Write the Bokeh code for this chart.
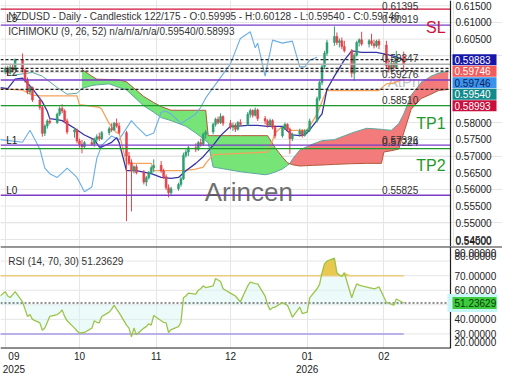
import numpy as np
import pandas as pd
from bokeh.plotting import figure
from bokeh.layouts import column
from bokeh.models import Range1d, FixedTicker, Span, Label, Grid
from bokeh.embed import file_html
from bokeh.resources import INLINE
from bokeh.core.properties import value

FONT = "Liberation Sans"

# ---------------- data ----------------
candle_dates = [
    "2025-09-01", "2025-09-02", "2025-09-03", "2025-09-04", "2025-09-05", "2025-09-08", "2025-09-09", "2025-09-10",
    "2025-09-11", "2025-09-12", "2025-09-15", "2025-09-16", "2025-09-17", "2025-09-18", "2025-09-19", "2025-09-22",
    "2025-09-23", "2025-09-24", "2025-09-25", "2025-09-26", "2025-09-29", "2025-09-30",
    "2025-10-01", "2025-10-02", "2025-10-03", "2025-10-06", "2025-10-07", "2025-10-08", "2025-10-09", "2025-10-10",
    "2025-10-13", "2025-10-14", "2025-10-15", "2025-10-16", "2025-10-17", "2025-10-20", "2025-10-21", "2025-10-22",
    "2025-10-23", "2025-10-24", "2025-10-27", "2025-10-28", "2025-10-29", "2025-10-30", "2025-10-31",
    "2025-11-03", "2025-11-04", "2025-11-05", "2025-11-06", "2025-11-07", "2025-11-10", "2025-11-11", "2025-11-12",
    "2025-11-13", "2025-11-14", "2025-11-17", "2025-11-18", "2025-11-19", "2025-11-20", "2025-11-21", "2025-11-24",
    "2025-11-25", "2025-11-26", "2025-11-27", "2025-11-28",
    "2025-12-01", "2025-12-02", "2025-12-03", "2025-12-04", "2025-12-05", "2025-12-08", "2025-12-09", "2025-12-10",
    "2025-12-11", "2025-12-12", "2025-12-15", "2025-12-16", "2025-12-17", "2025-12-18", "2025-12-19", "2025-12-22",
    "2025-12-23", "2025-12-24", "2025-12-25", "2025-12-26", "2025-12-29", "2025-12-30", "2025-12-31",
    "2026-01-01", "2026-01-02", "2026-01-05", "2026-01-06", "2026-01-07", "2026-01-08", "2026-01-09", "2026-01-12",
    "2026-01-13", "2026-01-14", "2026-01-15", "2026-01-16", "2026-01-19", "2026-01-20", "2026-01-21", "2026-01-22",
    "2026-01-23", "2026-01-26", "2026-01-27", "2026-01-28", "2026-01-29", "2026-01-30",
    "2026-02-02", "2026-02-03", "2026-02-04", "2026-02-05", "2026-02-06", "2026-02-09",
]
candle_open = [
    0.5952, 0.5962, 0.5948, 0.5966, 0.5958, 0.5988, 0.5958, 0.5928, 0.5892, 0.5905, 0.5868, 0.5845, 0.5768, 0.5790,
    0.5805, 0.5800, 0.5825, 0.5842, 0.5835, 0.5805, 0.5772, 0.5778,
    0.5745, 0.5735, 0.5728, 0.5740, 0.5735, 0.5750, 0.5758, 0.5752, 0.5770, 0.5782, 0.5778, 0.5798, 0.5790, 0.5770,
    0.5700, 0.5680, 0.5655, 0.5668, 0.5650, 0.5622, 0.5635, 0.5650, 0.5665,
    0.5672, 0.5655, 0.5638, 0.5605, 0.5590, 0.5602, 0.5615, 0.5632, 0.5702, 0.5712, 0.5725, 0.5720, 0.5740, 0.5735,
    0.5765, 0.5772, 0.5795, 0.5810, 0.5800, 0.5818,
    0.5798, 0.5786, 0.5792, 0.5780, 0.5800, 0.5795, 0.5825, 0.5836, 0.5822, 0.5838, 0.5812, 0.5805, 0.5792, 0.5806,
    0.5786, 0.5760, 0.5785, 0.5795, 0.5780, 0.5752, 0.5765, 0.5775, 0.5762,
    0.5774, 0.5778, 0.5805, 0.5872, 0.5920, 0.5968, 0.6008, 0.6040, 0.6058, 0.6040, 0.6045, 0.6028, 0.6015, 0.5948,
    0.6002, 0.6040, 0.6048, 0.6035, 0.6045, 0.6036, 0.6030, 0.6044,
    0.6032, 0.5970, 0.5960, 0.5978, 0.5965, 0.59995,
]
candle_high = [
    0.5968, 0.5970, 0.5972, 0.5975, 0.5992, 0.6007, 0.5962, 0.5935, 0.5910, 0.5908, 0.5875, 0.5850, 0.5795, 0.5810,
    0.5815, 0.5830, 0.5848, 0.5855, 0.5840, 0.5812, 0.5785, 0.5782,
    0.5752, 0.5748, 0.5745, 0.5752, 0.5755, 0.5765, 0.5770, 0.5775, 0.5788, 0.5798, 0.5802, 0.5812, 0.5800, 0.5775,
    0.5712, 0.5690, 0.5672, 0.5675, 0.5658, 0.5640, 0.5655, 0.5670, 0.5690,
    0.5685, 0.5662, 0.5645, 0.5615, 0.5608, 0.5620, 0.5638, 0.5710, 0.5720, 0.5730, 0.5738, 0.5745, 0.5752, 0.5770,
    0.5778, 0.5800, 0.5815, 0.5818, 0.5828, 0.5822,
    0.5808, 0.5800, 0.5798, 0.5805, 0.5810, 0.5832, 0.5842, 0.5840, 0.5845, 0.5842, 0.5820, 0.5810, 0.5812, 0.5810,
    0.5792, 0.5790, 0.5800, 0.5798, 0.5785, 0.5770, 0.5782, 0.5780, 0.5780,
    0.5782, 0.5812, 0.5878, 0.5925, 0.5975, 0.6015, 0.6048, 0.6088, 0.6070, 0.6052, 0.6055, 0.6045, 0.6020, 0.6008,
    0.6045, 0.6052, 0.6072, 0.6050, 0.6066, 0.6048, 0.6048, 0.6050,
    0.6045, 0.5992, 0.5985, 0.5982, 0.6015, 0.60128,
]
candle_low = [
    0.5945, 0.5940, 0.5944, 0.5950, 0.5955, 0.5950, 0.5920, 0.5885, 0.5885, 0.5862, 0.5838, 0.5758, 0.5760, 0.5782,
    0.5795, 0.5796, 0.5820, 0.5828, 0.5798, 0.5765, 0.5755, 0.5738,
    0.5725, 0.5708, 0.5722, 0.5730, 0.5728, 0.5742, 0.5745, 0.5748, 0.5762, 0.5772, 0.5775, 0.5785, 0.5765, 0.5505,
    0.5672, 0.5534, 0.5648, 0.5645, 0.5615, 0.5610, 0.5630, 0.5645, 0.5652,
    0.5650, 0.5632, 0.5598, 0.5576, 0.5580, 0.5596, 0.5608, 0.5628, 0.5695, 0.5700, 0.5712, 0.5715, 0.5728, 0.5730,
    0.5752, 0.5765, 0.5788, 0.5795, 0.5796, 0.5790,
    0.5780, 0.5775, 0.5772, 0.5776, 0.5790, 0.5790, 0.5815, 0.5815, 0.5818, 0.5805, 0.5795, 0.5785, 0.5788, 0.5780,
    0.5752, 0.5755, 0.5778, 0.5775, 0.5707, 0.5745, 0.5758, 0.5755, 0.5758,
    0.5768, 0.5772, 0.5800, 0.5865, 0.5912, 0.5960, 0.6000, 0.6030, 0.6032, 0.6025, 0.6020, 0.6010, 0.5935, 0.5925,
    0.5998, 0.6028, 0.6030, 0.6025, 0.6030, 0.6022, 0.6025, 0.6020,
    0.5962, 0.5950, 0.5955, 0.5958, 0.5960, 0.59540,
]
candle_close = [
    0.5962, 0.5948, 0.5966, 0.5958, 0.5988, 0.5958, 0.5928, 0.5892, 0.5905, 0.5868, 0.5845, 0.5768, 0.5790, 0.5805,
    0.5800, 0.5825, 0.5842, 0.5835, 0.5805, 0.5772, 0.5778, 0.5745,
    0.5735, 0.5728, 0.5740, 0.5735, 0.5750, 0.5758, 0.5752, 0.5770, 0.5782, 0.5778, 0.5798, 0.5790, 0.5770, 0.5700,
    0.5680, 0.5655, 0.5668, 0.5650, 0.5622, 0.5635, 0.5650, 0.5665, 0.5672,
    0.5655, 0.5638, 0.5605, 0.5590, 0.5602, 0.5615, 0.5632, 0.5702, 0.5712, 0.5725, 0.5720, 0.5740, 0.5735, 0.5765,
    0.5772, 0.5795, 0.5810, 0.5800, 0.5818, 0.5798,
    0.5786, 0.5792, 0.5780, 0.5800, 0.5795, 0.5825, 0.5836, 0.5822, 0.5838, 0.5812, 0.5805, 0.5792, 0.5806, 0.5786,
    0.5760, 0.5785, 0.5795, 0.5780, 0.5752, 0.5765, 0.5775, 0.5762, 0.5774,
    0.5778, 0.5805, 0.5872, 0.5920, 0.5968, 0.6008, 0.6040, 0.6058, 0.6040, 0.6045, 0.6028, 0.6015, 0.5948, 0.6002,
    0.6040, 0.6048, 0.6035, 0.6045, 0.6036, 0.6030, 0.6044, 0.6032,
    0.5970, 0.5960, 0.5978, 0.5965, 0.5995, 0.59746,
]

rsi_dates = ["2025-08-29"] + candle_dates
rsi_values = [
    54.8,
    59, 56, 55, 57, 59, 52, 47, 42, 43.3, 40, 37.6, 32.5, 34, 38, 42, 43.3, 44.5, 46.5, 42, 39, 34, 32,
    30.6, 30.8, 31, 34, 39, 38, 37.6, 42, 45, 47, 49.7, 47, 44.6, 36, 34, 28, 34, 29.4, 34, 35, 37, 36, 42.7,
    39, 38, 37.6, 31, 33, 35, 38, 54.8, 56, 58, 57.3, 60, 61, 63, 61.7, 63, 68, 67, 66, 61,
    58, 57, 56, 54, 52, 63, 65.6, 65, 64.5, 64.3, 56, 50, 46.5, 48, 48.4, 51.6, 50.5, 49.7, 45.9, 41.4, 48.4, 44, 44.5,
    45, 54.8, 61, 64, 72, 78, 80, 82, 72, 70.5, 69.4, 72, 54.8, 60, 64.3, 63.5, 63, 61.7, 61.5, 61, 61.5, 62.4,
    51.6, 51, 50.5, 49.7, 54, 51.23629,
]

tenkan_dates = [
    "2025-08-30", "2025-09-02", "2025-09-05", "2025-09-08", "2025-09-12", "2025-09-16", "2025-09-18", "2025-09-19",
    "2025-09-22", "2025-09-24", "2025-09-26", "2025-09-29", "2025-10-03", "2025-10-07", "2025-10-09", "2025-10-10",
    "2025-10-14", "2025-10-16", "2025-10-17", "2025-10-20", "2025-10-24", "2025-10-30", "2025-11-03", "2025-11-07",
    "2025-11-10", "2025-11-13", "2025-11-17", "2025-11-20", "2025-11-24", "2025-11-27", "2025-12-01", "2025-12-03",
    "2025-12-08", "2025-12-12", "2025-12-16", "2025-12-22", "2025-12-24", "2025-12-26", "2025-12-29", "2025-12-31",
    "2026-01-02", "2026-01-07", "2026-01-09", "2026-01-12", "2026-01-16", "2026-01-19", "2026-01-23", "2026-01-29",
    "2026-02-02", "2026-02-05", "2026-02-09",
]
tenkan_values = [
    0.5905, 0.5902, 0.5930, 0.5933, 0.5902, 0.5862, 0.5834, 0.5812, 0.5809, 0.5806, 0.5797, 0.5783, 0.5763, 0.5749,
    0.5727, 0.5727, 0.5741, 0.5755, 0.5741, 0.5656, 0.5656, 0.5647, 0.5636, 0.5633, 0.5636, 0.5656, 0.5678, 0.5698,
    0.5732, 0.5761, 0.5789, 0.5789, 0.5792, 0.5792, 0.5789, 0.5789, 0.5775, 0.5763, 0.5761, 0.5763, 0.5778, 0.5826,
    0.5900, 0.5939, 0.5987, 0.6015, 0.6010, 0.6010, 0.6004, 0.5999, 0.59883,
]

kijun_dates = [
    "2025-08-29", "2025-09-08", "2025-09-12", "2025-09-15", "2025-09-30", "2025-10-01", "2025-10-09", "2025-10-10",
    "2025-10-13", "2025-10-16", "2025-10-17", "2025-10-20", "2025-10-30", "2025-10-31", "2025-11-12", "2025-11-17",
    "2025-11-20", "2025-11-21", "2025-11-24", "2025-12-16", "2025-12-18", "2025-12-19", "2025-12-22", "2025-12-24",
    "2025-12-25", "2026-01-01", "2026-01-02", "2026-01-05", "2026-01-08", "2026-01-09", "2026-01-30", "2026-02-02",
    "2026-02-05", "2026-02-09",
]
kijun_values = [
    0.5902, 0.5897, 0.5882, 0.5880, 0.5880, 0.5854, 0.5846, 0.5840, 0.5797, 0.5769, 0.5769, 0.5678, 0.5678, 0.5656,
    0.5656, 0.5661, 0.5667, 0.5678, 0.5704, 0.5712, 0.5746, 0.5769, 0.5789, 0.5789, 0.5777, 0.5777, 0.5789, 0.5826,
    0.5882, 0.5896, 0.5896, 0.5916, 0.5919, 0.5931,
]

chikou_dates = [
    "2025-08-30", "2025-09-08", "2025-09-11", "2025-09-15", "2025-09-17", "2025-09-19", "2025-09-22", "2025-09-25",
    "2025-09-26", "2025-09-30", "2025-10-03", "2025-10-06", "2025-10-08", "2025-10-10", "2025-10-14", "2025-10-17",
    "2025-10-22", "2025-10-24", "2025-10-28", "2025-10-31", "2025-11-03", "2025-11-05", "2025-11-07", "2025-11-11",
    "2025-11-17", "2025-11-19", "2025-11-21", "2025-12-01", "2025-12-05", "2025-12-09", "2025-12-11", "2025-12-12",
    "2025-12-15", "2025-12-18", "2025-12-22", "2025-12-26", "2025-12-29", "2025-12-31", "2026-01-02", "2026-01-05",
]
chikou_values = [
    0.5749, 0.5741, 0.5777, 0.5721, 0.5664, 0.5647, 0.5636, 0.5656, 0.5664, 0.5636, 0.5593, 0.5607, 0.5693, 0.5732,
    0.5760, 0.5749, 0.5806, 0.5789, 0.5760, 0.5769, 0.5831, 0.5834, 0.5826, 0.5797, 0.5826, 0.5846, 0.5874, 0.5976,
    0.6052, 0.6072, 0.6024, 0.6038, 0.5939, 0.6047, 0.6038, 0.6044, 0.5967, 0.5967, 0.5987, 0.5996,
]

span_a_early_dates = ["2025-09-04", "2025-09-12", "2025-09-16", "2025-09-22", "2025-09-26", "2025-09-30"]
span_a_early_values = [0.5942, 0.5950, 0.5939, 0.5905, 0.5885, 0.5888]

cloud_dates = [
    "2025-10-02", "2025-10-06", "2025-10-08", "2025-10-13", "2025-10-17", "2025-10-20", "2025-10-27", "2025-10-31",
    "2025-11-03", "2025-11-07", "2025-11-13", "2025-11-17", "2025-11-21", "2025-11-22", "2025-11-24", "2025-12-05",
    "2025-12-15", "2025-12-16", "2025-12-19", "2025-12-22", "2025-12-24", "2025-12-25", "2025-12-26", "2025-12-29",
    "2026-01-03", "2026-01-07", "2026-01-12", "2026-01-19", "2026-01-25", "2026-01-31", "2026-02-01", "2026-02-04",
    "2026-02-07", "2026-02-09", "2026-02-12", "2026-02-16", "2026-02-20", "2026-02-23", "2026-02-27",
]
span_a = [
    0.5902, 0.5911, 0.5913, 0.5916, 0.5905, 0.5898, 0.5850, 0.5831, 0.5815, 0.5806, 0.5789, 0.5769, 0.5746, 0.5740,
    0.5667, 0.5653, 0.5644, 0.5645, 0.5652, 0.5661, 0.5672, 0.5677, 0.5690, 0.5718, 0.5735, 0.5746, 0.5749, 0.5769,
    0.5783, 0.5780, 0.5779, 0.5777, 0.5797, 0.5826, 0.5882, 0.5919, 0.5939, 0.5948, 0.59540,
]
span_b = [
    0.5959, 0.5939, 0.5930, 0.5929, 0.5928, 0.5922, 0.5878, 0.5860, 0.5848, 0.5837, 0.5837, 0.5837, 0.5837, 0.5761,
    0.5761, 0.5761, 0.5761, 0.5761, 0.5725, 0.5697, 0.5680, 0.5677, 0.5674, 0.5670, 0.5672, 0.5673, 0.5675, 0.5677,
    0.5678, 0.5678, 0.5712, 0.5716, 0.5721, 0.5769, 0.5840, 0.5872, 0.5885, 0.5896, 0.58993,
]
cloud_cross_date = "2025-12-25"

level_names = ["SL", "L3", "L2", "TP1", "L1", "TP2", "L0"]
level_values = [0.61395, 0.60919, 0.59276, 0.58510, 0.57326, 0.57224, 0.55825]
dotted_levels = [0.59883, 0.59625, 0.59540, 0.58993]
close_level = 0.59746

price_ticks = [0.545, 0.550, 0.555, 0.560, 0.565, 0.570, 0.575, 0.580, 0.585, 0.590, 0.595, 0.600, 0.605, 0.610, 0.615]
price_ticks_hidden = [0.585, 0.590, 0.595, 0.600]
rsi_grid = [20, 30, 40, 50, 60, 70, 80, 90]
rsi_ticks = [30, 40, 60, 70]
month_ticks = ["2025-09-01", "2025-10-01", "2025-11-01", "2025-12-01", "2026-01-01", "2026-02-01"]
month_label_dates = ["2025-09-04 12:00", "2025-10-01", "2025-11-01", "2025-12-01", "2026-01-01", "2026-02-01"]
month_labels = ["09\n2025", "10", "11", "12", "01\n2026", "02"]

axis_tags = ["0.59883", "0.59746", "0.59746", "0.59540", "0.58993"]
axis_tag_values = [0.59883, 0.59746, 0.59746, 0.59540, 0.58993]
axis_tag_bg = ["#1616a8", "#f25c5c", "#3a92ea", "#138a8c", "#c8103e"]
axis_tag_fg = ["white", "white", "#10205a", "white", "white"]

title_1 = "NZDUSD - Daily - Candlestick    122/175 - O:0.59995 - H:0.60128 - L:0.59540 - C:0.59746"
title_2 = "ICHIMOKU (9, 26, 52)    n/a/n/a/n/a/0.59540/0.58993"
rsi_title = "RSI (14, 70, 30)    51.23629"
rsi_last = 51.23629

# ---------------- geometry helpers ----------------
DAY = 86400000.0
BASE = pd.Timestamp("2025-09-01").value / 1e6
X0 = BASE - 1.91 * DAY          # left edge of the chart area
X1 = BASE + 179.9 * DAY         # right edge of the chart area (axis line)
FW, AW = 450, 52                # chart width, axis-strip width
XE = X0 + (X1 - X0) * (FW + AW) / FW
Y0, Y1 = 0.54291, 0.61656
FH, RH = 246, 102


def ms(s):
    return pd.Timestamp(s).value / 1e6


def X(px):                      # reference-pixel x inside chart -> data x
    return X0 + px / 467.0 * (X1 - X0)


def XA(px):                     # pixels to the right of the axis line -> data x
    return X1 + px * (X1 - X0) / FW


def PY(px):
    return Y1 - px / 260.0 * (Y1 - Y0)


def RY(px):
    return 90.0 - (px - 260.0) / 109.0 * 70.0


month_ms = [ms(d) for d in month_ticks]
GRID = "#e6e6e6"
AXC = "#222222"


def txt(fig, x, y, t, size="10px", color="#222", align="left", baseline="middle"):
    fig.text(x=x, y=y, text=t, text_font=value(FONT), text_font_size=size, text_color=color,
             text_align=align, text_baseline=baseline)


def lab(fig, x, y, text, size="10px", color="#333", align="left", baseline="middle", alpha=1.0):
    fig.add_layout(Label(x=x, y=y, text=text, text_font=FONT, text_font_size=size, text_color=color,
                         text_align=align, text_baseline=baseline, text_alpha=alpha))


# ---------------- main price panel ----------------
p = figure(frame_width=FW + AW, frame_height=FH, x_range=Range1d(X0, XE), y_range=Range1d(Y0, Y1),
           x_axis_type="datetime", x_axis_location=None, y_axis_location=None,
           output_backend="svg", toolbar_location=None,
           min_border_left=0, min_border_right=0, min_border_top=0, min_border_bottom=0)
p.outline_line_color = None
p.add_layout(Grid(dimension=0, ticker=FixedTicker(ticks=month_ms), grid_line_color=GRID))
p.segment(x0=X0, x1=X1, y0=price_ticks, y1=price_ticks, line_color=GRID, line_width=1)

# watermark under the cloud
txt(p, [X(402)], [PY(86)], ["AtPrice"], size="15px", color="#c0c0c0", baseline="alphabetic")

# cloud
cd = pd.to_datetime(cloud_dates)
A = np.array(span_a)
B = np.array(span_b)
k = cloud_dates.index(cloud_cross_date)
p.varea(x=cd[:k + 1], y1=A[:k + 1], y2=B[:k + 1], fill_color="#6fe36f", fill_alpha=0.95)
p.varea(x=cd[k:], y1=A[k:], y2=B[k:], fill_color="#f27474", fill_alpha=0.95)
a_dates = pd.to_datetime(span_a_early_dates + cloud_dates)
a_vals = span_a_early_values + span_a
p.line(a_dates, a_vals, line_color="#5aa8a0", line_width=1)
p.line(cd, B, line_color="#b05a3c", line_width=1)

# ichimoku lines
p.line(pd.to_datetime(chikou_dates), chikou_values, line_color="#6aaee6", line_width=1.1)
p.line(pd.to_datetime(kijun_dates), kijun_values, line_color="#f5a25c", line_width=1.3)
p.line(pd.to_datetime(tenkan_dates), tenkan_values, line_color="#3434a8", line_width=1.3)

# candles
cx = pd.to_datetime(candle_dates)
o = np.array(candle_open)
c = np.array(candle_close)
col = np.where(c >= o, "#2f9e72", "#e5434c")
p.segment(x0=cx, y0=candle_low, x1=cx, y1=candle_high, line_color=col, line_width=1)
p.vbar(x=cx, width=0.8 * DAY, top=np.maximum(o, c), bottom=np.minimum(o, c), fill_color=col, line_color=col,
       line_width=0.5)

# level lines (end at the axis line)
level_colors = {"SL": "#d0103a", "L3": "#7a3cc8", "L2": "#7a3cc8", "L1": "#7a3cc8", "L0": "#7a3cc8",
                "TP1": "#1f9a2a", "TP2": "#1f9a2a"}
p.segment(x0=X0, x1=X1, y0=level_values, y1=level_values,
          line_color=[level_colors[n] for n in level_names], line_width=1.3)
p.segment(x0=X0, x1=X1, y0=dotted_levels, y1=dotted_levels, line_color="#222", line_width=1.2, line_dash="3 2")
p.segment(x0=[X0], x1=[X1], y0=[close_level], y1=[close_level], line_color="#b0b0b0", line_width=1.5)

# value texts above lines
for t, py in [("0.61395", 6), ("0.60919", 20), ("0.59347", 61), ("0.59276", 78), ("0.58510", 105),
              ("0.57326", 147), ("0.57224", 150), ("0.55825", 200)]:
    lab(p, X(396), PY(py), t, size="10px", color="#333")

# left level names
for t, py in [("L3", 19), ("L2", 76), ("L1", 148), ("L0", 201)]:
    lab(p, X(6), PY(py), t, size="10px", color="#222", baseline="alphabetic")

# SL / TP texts
lab(p, X(462), PY(29), "SL", size="16px", color="#d0103a", align="right", baseline="alphabetic")
lab(p, X(462), PY(130), "TP1", size="16px", color="#1f9a2a", align="right", baseline="alphabetic")
lab(p, X(462), PY(174), "TP2", size="16px", color="#1f9a2a", align="right", baseline="alphabetic")

# watermark
lab(p, X(212), PY(202), "Arincen", size="26px", color="#555555", baseline="alphabetic", alpha=0.85)

# titles
lab(p, X(8), PY(17), title_1, size="10px", color="#333", baseline="alphabetic")
lab(p, X(8), PY(33), title_2, size="10px", color="#333", baseline="alphabetic")

# right price scale
p.segment(x0=[X1], x1=[X1], y0=[Y0], y1=[Y1], line_color=AXC, line_width=1.2)
shown = [v for v in price_ticks if v not in price_ticks_hidden]
txt(p, [XA(5)] * len(shown), shown, [f"{v:.5f}" for v in shown])
txt(p, [XA(5)], [PY(254.5)], ["0.54000"])

# stacked tags on the scale
ppu = FH / (Y1 - Y0)
prev = None
tag_y = []
for v in axis_tag_values:
    px = (Y1 - v) * ppu
    if prev is not None:
        px = max(px, prev + 11.5)
    prev = px
    tag_y.append(Y1 - px / ppu)
p.rect(x=[XA(24)] * len(tag_y), y=tag_y, width=44, height=11, width_units="screen", height_units="screen",
       fill_color=axis_tag_bg, line_color=None)
p.text(x=[XA(4)] * len(tag_y), y=tag_y, text=axis_tags, text_font=value(FONT), text_font_size="10px",
       text_color=axis_tag_fg, text_align="left", text_baseline="middle")

# ---------------- RSI panel ----------------
r = figure(frame_width=FW + AW, frame_height=RH, x_range=p.x_range, y_range=Range1d(20, 90),
           x_axis_type="datetime", y_axis_location=None,
           output_backend="svg", toolbar_location=None,
           min_border_left=0, min_border_right=0, min_border_top=0, min_border_bottom=0)
r.outline_line_color = None
r.xgrid.ticker = FixedTicker(ticks=month_ms)
r.xgrid.grid_line_color = GRID
r.ygrid.grid_line_color = None
r.segment(x0=X0, x1=X1, y0=rsi_grid, y1=rsi_grid, line_color=GRID, line_width=1)

label_ms = [ms(d) for d in month_label_dates]
rx = r.xaxis[0]
rx.ticker = FixedTicker(ticks=label_ms)
rx.major_label_overrides = {m: l for m, l in zip(label_ms, month_labels)}
rx.major_label_text_font = FONT
rx.major_label_text_font_size = "10px"
rx.major_label_text_color = "#222"
rx.major_tick_out = 0
rx.major_tick_in = 0
rx.minor_tick_out = 0
rx.minor_tick_in = 0
rx.axis_line_color = None
rx.major_label_standoff = 2

rd = pd.to_datetime(rsi_dates)
rv = np.array(rsi_values)
r.varea(x=rd, y1=rv, y2=50, fill_color="#d6f5f5", fill_alpha=0.45)
r.varea(x=rd, y1=70, y2=np.maximum(rv, 70), fill_color="#e8c545", fill_alpha=0.95)
r.segment(x0=[rd[0]], y0=[70], x1=[rd[-1]], y1=[70], line_color="#e9cb7c", line_width=1.5)
r.segment(x0=[rd[0]], y0=[30], x1=[rd[-1]], y1=[30], line_color="#a99be6", line_width=1.5)
r.segment(x0=[X0], x1=[X1], y0=[rsi_last], y1=[rsi_last], line_color="#222", line_width=1.2, line_dash="2 2")
r.line(rd, rv, line_color="#9cc44a", line_width=1.3)

# frame lines: separator on top, axis line right, bottom line
r.add_layout(Span(location=90, dimension="width", line_color="#333", line_width=2))
r.segment(x0=[X1], x1=[X1], y0=[20], y1=[90], line_color=AXC, line_width=1.2)
r.segment(x0=[X0], x1=[X1], y0=[20], y1=[20], line_color=AXC, line_width=2)

lab(r, X(8), RY(276), rsi_title, size="10px", color="#333", baseline="alphabetic")

# RSI scale labels
txt(r, [XA(4)] * len(rsi_ticks), rsi_ticks, [f"{v:.5f}" for v in rsi_ticks])
txt(r, [XA(4)] * 3, [RY(267), RY(270.5), RY(362.5)], ["90.00000", "80.00000", "20.00000"])
r.rect(x=[XA(22)], y=[rsi_last], width=50, height=18, width_units="screen", height_units="screen",
       fill_color="#c8f6f6", line_color=None)
r.rect(x=[XA(24)], y=[rsi_last], width=44, height=12, width_units="screen", height_units="screen",
       fill_color="#3dca3d", line_color=None)
txt(r, [XA(4)], [rsi_last], ["51.23629"], color="#0b3b0b")

layout = column(p, r, spacing=0)
open("out.html", "w").write(file_html(layout, INLINE))
